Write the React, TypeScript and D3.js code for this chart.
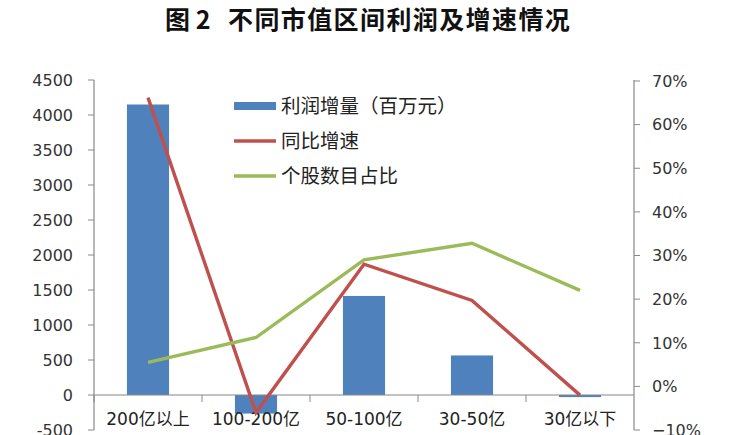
import React from "react";
import * as d3 from "d3";

const categories = ["200亿以上", "100-200亿", "50-100亿", "30-50亿", "30亿以下"];
const profitIncrease = [4150, -265, 1415, 565, -30];
const yoyGrowth = [0.662, -0.06, 0.28, 0.197, -0.02];
const stockShare = [0.055, 0.112, 0.29, 0.328, 0.22];
const leftTicks = [-500, 0, 500, 1000, 1500, 2000, 2500, 3000, 3500, 4000, 4500];
const rightTicks = [-0.1, 0, 0.1, 0.2, 0.3, 0.4, 0.5, 0.6, 0.7];
const legendLabels = ["利润增量（百万元）", "同比增速", "个股数目占比"];
const titleFig = "图 2";
const titleText = "不同市值区间利润及增速情况";

const W = 735, H = 435;
const left = 94, right = 634, top = 80, bottom = 430;
const BLUE = "#4F81BD", RED = "#C0504D", GREEN = "#9BBB59";
const FONT = "'DejaVu Sans', 'Noto Sans CJK SC', sans-serif";
const CJK = "'Noto Sans CJK SC', sans-serif";

export default function App() {
  const x = d3.scaleBand<string>().domain(categories).range([left, right]).paddingInner(0.61).paddingOuter(0.305);
  const xc = d3.scaleBand<string>().domain(categories).range([left, right]);
  const yL = d3.scaleLinear().domain([-500, 4500]).range([bottom, top]);
  const yR = d3.scaleLinear().domain([-0.1, 0.7]).range([bottom, top + 1]);
  const cx = (c: string) => (xc(c) as number) + xc.bandwidth() / 2;
  const line = d3.line<number>().x((_, i) => cx(categories[i])).y((v) => yR(v));
  const pct = d3.format(".0%");
  const legendColors = [BLUE, RED, GREEN];
  return (
    <svg width={W} height={H} style={{ position: "absolute", left: 0, top: 0, background: "#fff" }} fontFamily={FONT}>
      <rect width={W} height={H} fill="#fff" />
      <text x={165} y={29} fontSize={25} fontWeight="bold" fill="#111" fontFamily={CJK}>{titleFig}</text>
      <text x={228} y={29} fontSize={25} fontWeight="bold" fill="#111" fontFamily={CJK} letterSpacing={1.4}>{titleText}</text>
      {/* bars */}
      {categories.map((c, i) => {
        const v = profitIncrease[i];
        const y0 = yL(0), y1 = yL(v);
        return <rect key={c} x={x(c)} width={x.bandwidth()} y={Math.min(y0, y1)} height={Math.abs(y1 - y0)} fill={BLUE} />;
      })}
      {/* left axis */}
      <line x1={left} x2={left} y1={top} y2={bottom} stroke="#888" strokeWidth={1.2} />
      {leftTicks.map((t) => (
        <g key={t}>
          <line x1={left - 6} x2={left} y1={yL(t)} y2={yL(t)} stroke="#888" />
          <text x={left - 21} y={yL(t)} dy="0.36em" textAnchor="end" fontSize={16} fill="#333">{t}</text>
        </g>
      ))}
      {/* right axis */}
      <line x1={right} x2={right} y1={top} y2={bottom} stroke="#888" strokeWidth={1.2} />
      {rightTicks.map((t) => (
        <g key={t}>
          <line x1={right} x2={right + 6} y1={yR(t)} y2={yR(t)} stroke="#888" />
          <text x={right + 18} y={yR(t)} dy="0.36em" textAnchor="start" fontSize={16} fill="#333">{pct(t)}</text>
        </g>
      ))}
      {/* category axis */}
      <line x1={left} x2={right} y1={yL(0)} y2={yL(0)} stroke="#888" strokeWidth={1.2} />
      {categories.map((c) => (
        <g key={c}>
          <line x1={xc(c) as number} x2={xc(c) as number} y1={yL(0)} y2={yL(0) + 7} stroke="#888" />
          <text x={cx(c)} y={425} textAnchor="middle" fontSize={17} fill="#222">{c}</text>
        </g>
      ))}
      {/* lines */}
      <path d={line(yoyGrowth) as string} fill="none" stroke={RED} strokeWidth={3.4} />
      <path d={line(stockShare) as string} fill="none" stroke={GREEN} strokeWidth={3.4} />
      {/* legend */}
      {legendLabels.map((l, i) => {
        const ly = 106 + i * 35;
        return (
          <g key={l}>
            {i === 0 ? (
              <rect x={234} y={ly - 4} width={42} height={8} fill={legendColors[i]} />
            ) : (
              <line x1={234} x2={276} y1={ly} y2={ly} stroke={legendColors[i]} strokeWidth={3.4} />
            )}
            <text x={281} y={ly} dy="0.36em" fontSize={19.5} fill="#222" fontFamily={CJK}>{l}</text>
          </g>
        );
      })}
    </svg>
  );
}
